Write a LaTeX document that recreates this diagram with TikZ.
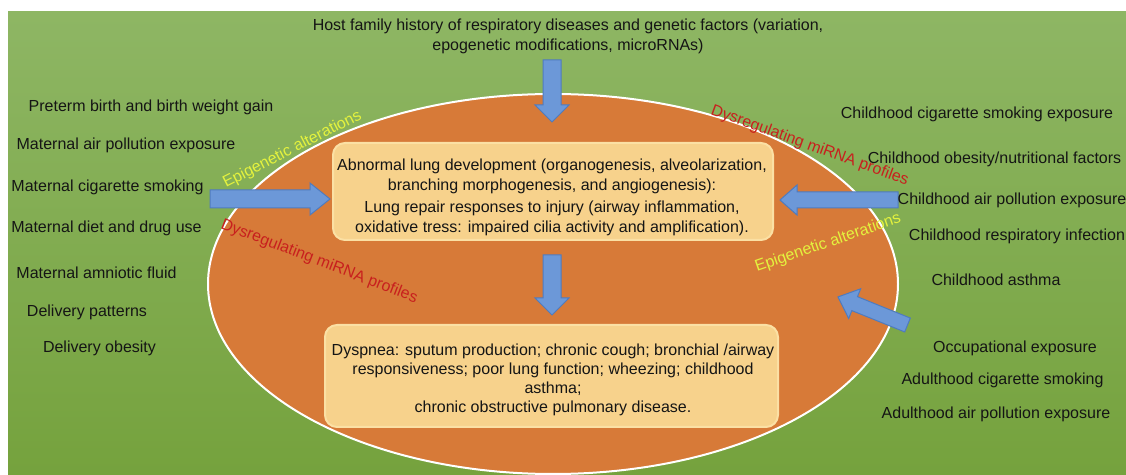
\documentclass[tikz,border=0pt]{standalone}
\usepackage{fontspec}
\setmainfont{Liberation Sans}
\definecolor{bgtop}{HTML}{8EB664}
\definecolor{bgbot}{HTML}{75A23D}
\definecolor{orng}{HTML}{D77A38}
\definecolor{boxfill}{HTML}{F7D28C}
\definecolor{boxedge}{HTML}{FBE0A4}
\definecolor{arrfill}{HTML}{6C98D8}
\definecolor{arredge}{HTML}{4F7BBE}
\definecolor{txt}{HTML}{151515}
\definecolor{redlbl}{HTML}{C8201E}
\definecolor{yellbl}{HTML}{E4F23E}
\newcommand{\blockarr}[7]{%
  \begin{scope}[shift={(#1,#2)},rotate=#3]
    \draw[blockarrow] (0,-#5) -- ({#4-#7},-#5) -- ({#4-#7},-#6) -- (#4,0)
      -- ({#4-#7},#6) -- ({#4-#7},#5) -- (0,#5) -- cycle;
  \end{scope}}
\begin{document}
\begin{tikzpicture}[x=1bp,y=-1bp,
  every node/.style={font=\fontsize{16bp}{20bp}\selectfont, inner sep=0pt, text=txt},
  lbl/.style={anchor=base},
  curvelbl/.style={anchor=base west},
  innerbox/.style={draw=boxedge, line width=2bp, fill=boxfill, rounded corners=12bp},
  blockarrow/.style={draw=arredge, line width=1bp, fill=arrfill, line join=miter}]
\useasboundingbox (0,0) rectangle (1126,475);
\fill[white] (0,0) rectangle (1126,475);
\fill[top color=bgtop, bottom color=bgbot] (8,12) rectangle (1126,475);
% ellipse
\draw[white, line width=2bp, fill=orng] (553,284) ellipse [x radius=345, y radius=190];
% inner boxes
\node[innerbox, minimum width=440bp, minimum height=97bp] (devbox) at (553,191.5) {};
\node[align=center] (devtext) at (552,197) {Abnormal lung development (organogenesis, alveolarization,\\ branching morphogenesis, and angiogenesis):\\[2bp] Lung repair responses to injury (airway inflammation,\\ oxidative tress: impaired cilia activity and amplification).};
\node[innerbox, minimum width=453bp, minimum height=102bp] (symbox) at (551.5,376) {};
\node[align=center, font=\fontsize{16bp}{19bp}\selectfont] (symtext) at (553,379.5) {Dyspnea: sputum production; chronic cough; bronchial /airway\\ responsiveness; poor lung function; wheezing; childhood\\ asthma;\\ chronic obstructive pulmonary disease.};
% block arrows
\blockarr{552}{60}{-90}{62}{9}{17}{17}
\blockarr{552}{255}{-90}{60}{9}{17}{17}
\blockarr{210}{199}{0}{120}{9}{16}{20}
\blockarr{898}{200}{180}{118}{8}{15}{17}
\blockarr{907.5}{325}{158}{75}{7.5}{16}{18}
% top text
\node[align=center] (host) at (568,36) {Host family history of respiratory diseases and genetic factors (variation,\\ epogenetic modifications, microRNAs)};
% left texts
\node[lbl] (l1) at (151,112) {Preterm birth and birth weight gain};
\node[lbl] (l2) at (126,150) {Maternal air pollution exposure};
\node[lbl] (l3) at (107.5,192) {Maternal cigarette smoking};
\node[lbl] (l4) at (106.5,233) {Maternal diet and drug use};
\node[lbl] (l5) at (96.5,279) {Maternal amniotic fluid};
\node[lbl] (l6) at (87,317) {Delivery patterns};
\node[lbl] (l7) at (99.5,353) {Delivery obesity};
% right texts
\node[lbl] (r1) at (977,119) {Childhood cigarette smoking exposure};
\node[lbl] (r2) at (994.5,164) {Childhood obesity/nutritional factors};
\node[lbl] (r3) at (1012,205) {Childhood air pollution exposure};
\node[lbl] (r4) at (1017,241) {Childhood respiratory infection};
\node[lbl] (r5) at (996,286) {Childhood asthma};
\node[lbl] (r6) at (1015,353) {Occupational exposure};
\node[lbl] (r7) at (1002.5,385) {Adulthood cigarette smoking};
\node[lbl] (r8) at (996,419) {Adulthood air pollution exposure};
% labels along the ellipse
\node[curvelbl, rotate=27, text=yellbl] (epi1) at (226,188) {Epigenetic alterations};
\node[curvelbl, rotate=-20, text=redlbl] (mir1) at (710,114) {Dysregulating miRNA profiles};
\node[curvelbl, rotate=-21, text=redlbl] (mir2) at (220,228) {Dysregulating miRNA profiles};
\node[curvelbl, rotate=19, text=yellbl] (epi2) at (757,272) {Epigenetic alterations};
\end{tikzpicture}
\end{document}
